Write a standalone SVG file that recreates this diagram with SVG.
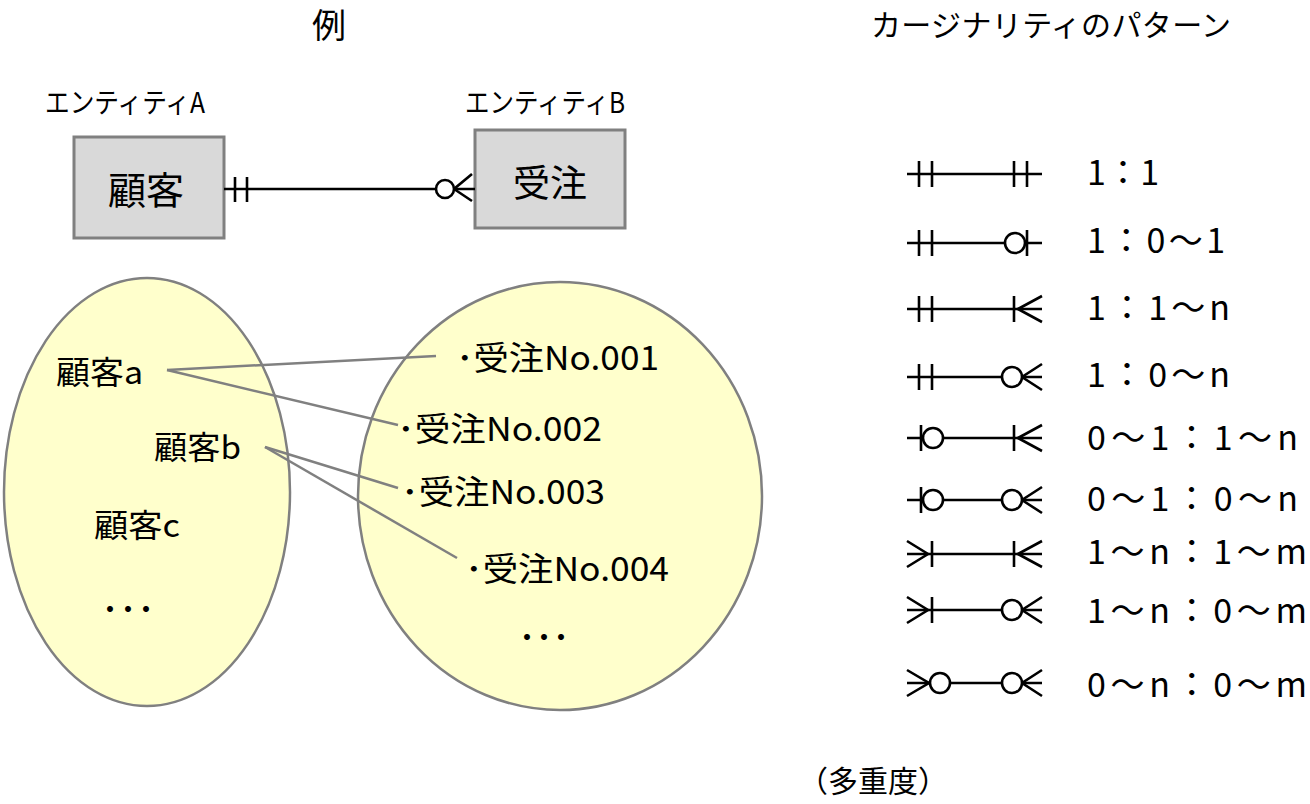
<svg xmlns="http://www.w3.org/2000/svg" xmlns:xlink="http://www.w3.org/1999/xlink" width="1310" height="804" viewBox="0 0 1310 804">
<style>
text{font-family:"Noto Sans CJK JP","Noto Sans",sans-serif;fill:#000}
.box{fill:#d9d9d9;stroke:#808080;stroke-width:3}
.set{fill:#ffffcc;stroke:#808080;stroke-width:2.5}
.gl{stroke:#808080;stroke-width:2.5;fill:none}
.k{stroke:#000;stroke-width:2.6;fill:none}
.kc{stroke:#000;stroke-width:2.6;fill:#fff}
.t24{font-size:28px}
.t31{font-size:32px}
.t33{font-size:33px}
.dots{font-size:28px}
.lab{font-size:34px}
</style>
<defs>
<g id="base"><line class="k" x1="907" y1="0" x2="1042" y2="0"/></g>
<g id="L11"><line class="k" x1="919" y1="-13" x2="919" y2="13"/><line class="k" x1="932" y1="-13" x2="932" y2="13"/></g>
<g id="L01"><line class="k" x1="921" y1="-13" x2="921" y2="13"/><circle class="kc" cx="933" cy="0" r="10"/></g>
<g id="L1n"><polyline class="k" points="907,-13 928,0 907,13"/><line class="k" x1="932" y1="-13" x2="932" y2="13"/></g>
<g id="L0n"><polyline class="k" points="907,-13 929,0 907,13"/><circle class="kc" cx="940" cy="0" r="10"/></g>
<g id="R11"><line class="k" x1="1014" y1="-13" x2="1014" y2="13"/><line class="k" x1="1027" y1="-13" x2="1027" y2="13"/></g>
<g id="R01"><circle class="kc" cx="1015" cy="0" r="10"/><line class="k" x1="1027" y1="-13" x2="1027" y2="13"/></g>
<g id="R1n"><line class="k" x1="1014" y1="-13" x2="1014" y2="13"/><polyline class="k" points="1042,-13 1018,0 1042,13"/></g>
<g id="R0n"><polyline class="k" points="1042,-13 1022,0 1042,13"/><circle class="kc" cx="1012" cy="0" r="10"/></g>
</defs>

<g id="titles">
<text x="329" y="38" font-size="34" text-anchor="middle">例</text>
<text x="871" y="36" font-size="30" textLength="360">カージナリティのパターン</text>
<text x="798" y="792" font-size="30">（多重度）</text>
</g>

<g id="entityA">
<text class="t24" x="45" y="113" textLength="160" lengthAdjust="spacingAndGlyphs">エンティティA</text>
<rect class="box" x="74" y="137" width="150" height="101"/>
<text x="146" y="204" font-size="38" text-anchor="middle">顧客</text>
</g>
<g id="entityB">
<text class="t24" x="465" y="113" textLength="160" lengthAdjust="spacingAndGlyphs">エンティティB</text>
<rect class="box" x="475" y="130" width="150" height="98"/>
<text x="550" y="197" font-size="37" text-anchor="middle">受注</text>
</g>

<g id="setA">
<ellipse class="set" cx="147" cy="492" rx="143" ry="214"/>
<text class="t31" x="56" y="384" textLength="87" lengthAdjust="spacingAndGlyphs">顧客a</text>
<text class="t31" x="154" y="459" textLength="87" lengthAdjust="spacingAndGlyphs">顧客b</text>
<text class="t31" x="94" y="537" textLength="86" lengthAdjust="spacingAndGlyphs">顧客c</text>
<text class="dots" x="96 114 132" y="620">・・・</text>
</g>
<g id="setB">
<ellipse class="set" cx="560" cy="496" rx="202" ry="214"/>
<text class="t33" x="456" y="370" textLength="203" lengthAdjust="spacingAndGlyphs">･受注No.001</text>
<text class="t33" x="397" y="441" textLength="205" lengthAdjust="spacingAndGlyphs">･受注No.002</text>
<text class="t33" x="401" y="504" textLength="204" lengthAdjust="spacingAndGlyphs">･受注No.003</text>
<text class="t33" x="465" y="581" textLength="204" lengthAdjust="spacingAndGlyphs">･受注No.004</text>
<text class="dots" x="513 530 547" y="648">・・・</text>
</g>

<g id="connectors">
<line class="k" x1="224" y1="189" x2="475" y2="189"/>
<line class="k" x1="235" y1="177" x2="235" y2="202"/>
<line class="k" x1="247" y1="177" x2="247" y2="202"/>
<polyline class="k" points="472,174 454,189 472,201"/>
<circle class="kc" cx="445" cy="189" r="9"/>
<line class="gl" x1="167" y1="370" x2="436" y2="356"/>
<line class="gl" x1="167" y1="370" x2="398" y2="425"/>
<line class="gl" x1="265" y1="447" x2="398" y2="488"/>
<line class="gl" x1="265" y1="447" x2="457" y2="558"/>
</g>

<g id="patterns">
<g transform="translate(0,174)"><use href="#base"/><use href="#L11"/><use href="#R11"/></g>
<g transform="translate(0,243)"><use href="#base"/><use href="#L11"/><use href="#R01"/></g>
<g transform="translate(0,309)"><use href="#base"/><use href="#L11"/><use href="#R1n"/></g>
<g transform="translate(0,377)"><use href="#base"/><use href="#L11"/><use href="#R0n"/></g>
<g transform="translate(0,438)"><use href="#base"/><use href="#L01"/><use href="#R1n"/></g>
<g transform="translate(0,500)"><use href="#base"/><use href="#L01"/><use href="#R0n"/></g>
<g transform="translate(0,554)"><use href="#base"/><use href="#L1n"/><use href="#R1n"/></g>
<g transform="translate(0,610)"><use href="#base"/><use href="#L1n"/><use href="#R0n"/></g>
<g transform="translate(0,683)"><use href="#base"/><use href="#L0n"/><use href="#R0n"/></g>
</g>

<g id="labels">
<text class="lab" x="1087" y="185" textLength="72">1：1</text>
<text class="lab" x="1087" y="253" textLength="138">1：0～1</text>
<text class="lab" x="1087" y="320" textLength="143">1：1～n</text>
<text class="lab" x="1087" y="387" textLength="143">1：0～n</text>
<text class="lab" x="1087" y="450" textLength="211">0～1：1～n</text>
<text class="lab" x="1087" y="511" textLength="211">0～1：0～n</text>
<text class="lab" x="1087" y="564" textLength="220">1～n：1～m</text>
<text class="lab" x="1087" y="623" textLength="220">1～n：0～m</text>
<text class="lab" x="1087" y="697" textLength="220">0～n：0～m</text>
</g>
</svg>
